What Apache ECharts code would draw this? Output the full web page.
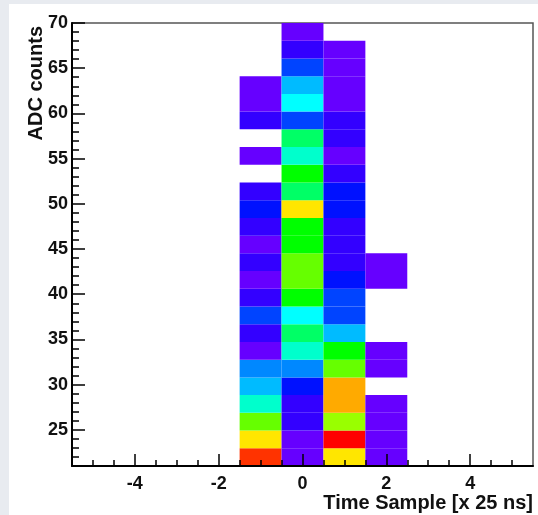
<!DOCTYPE html>
<html>
<head>
<meta charset="utf-8">
<script src="https://cdn.jsdelivr.net/npm/echarts@6/dist/echarts.min.js"></script>
<style>
  html, body { margin: 0; padding: 0; width: 538px; height: 515px; overflow: hidden; background: #e8ebf0; }
  #chart { position: absolute; left: 9px; top: 4px; width: 529px; height: 511px; background: #ffffff; }
</style>
</head>
<body>
<div id="chart"></div>
<script>
// ---- Data ----
const timeSamples = [-1, 0, 1, 2];              // x bin centres [x 25 ns]
const adcMin = 21, adcMax = 70, adcBins = 25;   // y binning (ADC counts)
// colour level per ADC bin (bin 0 = lowest), null = empty
const countsTm1 = [15, 13, 11, 8, 6, 5, 1, 2, 4, 2, 1, 2, 1, 2, 3, 2, null, 1, null, 2, 1, 1, null, null, null];
const countsT0  = [1, 1, 2, 2, 3, 5, 8, 9, 7, 10, 11, 11, 10, 10, 13, 9, 10, 8, 9, 4, 7, 6, 4, 2, 1];
const countsT1  = [13, 16, 12, 14, 14, 11, 10, 6, 4, 4, 3, 2, 2, 2, 3, 3, 2, 1, 2, 2, 1, 1, 1, 1, null];
const countsT2  = [1, 1, 1, 1, null, 1, 1, null, null, null, 1, 1, null, null, null, null, null, null, null, null, null, null, null, null, null];
const xTickLabels = [-4, -2, 0, 2, 4];
const yTickLabels = [25, 30, 35, 40, 45, 50, 55, 60, 65, 70];
const xMinorTicks = [-5, -4.5, -4, -3.5, -3, -2.5, -2, -1.5, -1, -0.5, 0, 0.5, 1, 1.5, 2, 2.5, 3, 3.5, 4, 4.5, 5];
const yMinorTicks = [22, 23, 24, 25, 26, 27, 28, 29, 30, 31, 32, 33, 34, 35, 36, 37, 38, 39, 40, 41, 42, 43, 44, 45, 46, 47, 48, 49, 50, 51, 52, 53, 54, 55, 56, 57, 58, 59, 60, 61, 62, 63, 64, 65, 66, 67, 68, 69];
const palette = ['#6600ff', '#3300ff', '#0011ff', '#0044ff', '#0088ff', '#00bbff', '#00ffff', '#00ffcc',
                 '#00ff66', '#00ff00', '#66ff00', '#99ff00', '#ffe600', '#ffaa00', '#ff3300', '#ff0000'];

// ---- Build cells ----
const columns = [countsTm1, countsT0, countsT1, countsT2];
const binW = (adcMax - adcMin) / adcBins;
const cells = [];
columns.forEach((col, ci) => {
  col.forEach((v, bi) => {
    if (v !== null) cells.push([timeSamples[ci], adcMin + bi * binW, adcMin + (bi + 1) * binW, v]);
  });
});

const FONT = 'Liberation Sans, Arial, sans-serif';
const chart = echarts.init(document.getElementById('chart'), null, { renderer: 'canvas' });
chart.setOption({
  animation: false,
  backgroundColor: 'transparent',
  grid: { left: 63, right: 5, top: 19, bottom: 49, show: true, borderColor: '#555', borderWidth: 1.5, backgroundColor: 'transparent' },
  xAxis: [
    { type: 'value', min: -5.5, max: 5.5, z: 5,
      axisLine: { onZero: false, lineStyle: { color: '#000', width: 2 } },
      axisTick: { inside: true, length: 12, customValues: xTickLabels, lineStyle: { color: '#000', width: 1.5 } },
      axisLabel: { customValues: xTickLabels, margin: 9, fontSize: 18, fontWeight: 'bold', color: '#111', fontFamily: FONT },
      splitLine: { show: false } },
    { type: 'value', min: -5.5, max: 5.5, position: 'bottom', z: 5,
      axisLine: { show: false, onZero: false },
      axisTick: { inside: true, length: 6, customValues: xMinorTicks, lineStyle: { color: '#000', width: 1.5 } },
      axisLabel: { show: false }, splitLine: { show: false } }
  ],
  yAxis: [
    { type: 'value', min: adcMin, max: adcMax, z: 5,
      axisLine: { onZero: false, lineStyle: { color: '#000', width: 2 } },
      axisTick: { inside: true, length: 13, customValues: yTickLabels, lineStyle: { color: '#000', width: 1.5 } },
      axisLabel: { customValues: yTickLabels, margin: 4, fontSize: 18, fontWeight: 'bold', color: '#111', fontFamily: FONT },
      splitLine: { show: false } },
    { type: 'value', min: adcMin, max: adcMax, position: 'left', z: 5,
      axisLine: { show: false, onZero: false },
      axisTick: { inside: true, length: 7, customValues: yMinorTicks, lineStyle: { color: '#000', width: 1.5 } },
      axisLabel: { show: false }, splitLine: { show: false } }
  ],
  visualMap: { show: false, type: 'continuous', min: 1, max: 16, dimension: 3, seriesIndex: 0, inRange: { color: palette } },
  series: [{
    type: 'custom',
    xAxisIndex: 0, yAxisIndex: 0,
    encode: { x: 0, y: [1, 2] },
    data: cells,
    clip: true,
    renderItem: function (params, api) {
      const x = api.value(0), y0 = api.value(1), y1 = api.value(2);
      const p0 = api.coord([x - 0.5, y0]);
      const p1 = api.coord([x + 0.5, y1]);
      return { type: 'rect',
        shape: { x: p0[0], y: p1[1], width: p1[0] - p0[0], height: p0[1] - p1[1] },
        style: { fill: api.visual('color') } };
    }
  }],
  graphic: [
    { type: 'text', x: 27, y: 22, rotation: Math.PI / 2,
      style: { text: 'ADC counts', fontSize: 20, fontWeight: 'bold', fontFamily: FONT, fill: '#111', align: 'right', verticalAlign: 'middle' } },
    { type: 'text', x: 524, y: 499,
      style: { text: 'Time Sample [x 25 ns]', fontSize: 20, fontWeight: 'bold', fontFamily: FONT, fill: '#111', align: 'right', verticalAlign: 'middle' } }
  ]
});
</script>
</body>
</html>
